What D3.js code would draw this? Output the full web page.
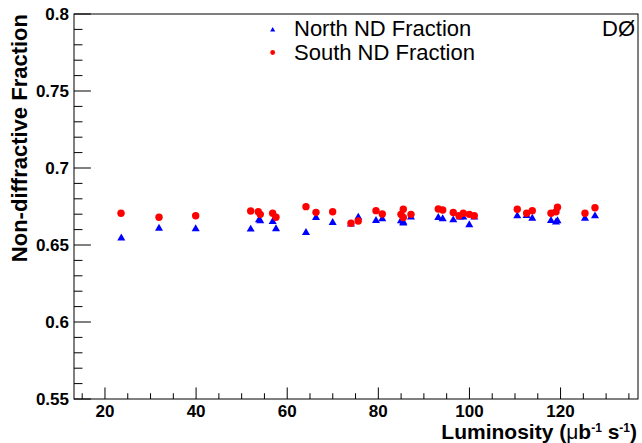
<!DOCTYPE html>
<html><head><meta charset="utf-8">
<script src="https://cdn.jsdelivr.net/npm/d3@7"></script>
<style>
html,body{margin:0;padding:0;background:#fff;}
svg{display:block;font-family:"Liberation Sans",Arial,Helvetica,sans-serif;}
</style></head>
<body><svg id="c" width="642" height="443"></svg>
<script>
// ---- data ----
const southLum = [23.52,31.86,39.91,51.98,53.65,54.09,56.81,57.54,64.12,66.32,69.98,74.00,75.60,79.49,80.87,84.97,85.48,85.48,87.17,93.16,94.13,96.45,97.70,98.65,99.97,101.06,110.50,112.56,113.79,117.90,119.00,119.33,125.36,127.56];
const southFrac = [0.6706,0.6680,0.6690,0.6721,0.6716,0.6699,0.6706,0.6680,0.6749,0.6712,0.6716,0.6641,0.6656,0.6723,0.6701,0.6699,0.6732,0.6679,0.6699,0.6734,0.6727,0.6711,0.6690,0.6706,0.6699,0.6690,0.6732,0.6706,0.6723,0.6706,0.6716,0.6745,0.6706,0.6742];
const northLum = [23.58,31.86,39.91,51.98,53.80,54.09,56.81,57.54,64.12,66.32,69.98,74.00,75.60,79.49,80.87,84.97,85.48,85.48,87.17,93.16,94.13,96.45,97.92,98.65,99.97,101.06,110.50,112.56,113.79,117.90,119.00,119.33,125.36,127.56];
const northFrac = [0.6544,0.6608,0.6604,0.6602,0.6662,0.6656,0.6651,0.6604,0.6580,0.6677,0.6645,0.6636,0.6680,0.6658,0.6669,0.6656,0.6641,0.6648,0.6680,0.6677,0.6669,0.6662,0.6680,0.6680,0.6630,0.6680,0.6688,0.6690,0.6673,0.6658,0.6649,0.6656,0.6673,0.6688];
const xTicks = [20,40,60,80,100,120];
const yTicks = [0.55,0.6,0.65,0.7,0.75,0.8];
const legendLabels = ["North ND Fraction","South ND Fraction"];
const expLabel = "DØ";

// ---- layout ----
const L=74, T=14, R=638, B=399;
const svg=d3.select("#c");
const x=d3.scaleLinear().domain([13.2,137]).range([L,R]);
const y=d3.scaleLinear().domain([0.55,0.8]).range([B,T]);
const fw=R-L, fh=B-T;
const xMaj=0.03*fh, yMaj=0.03*fw;

// frame
svg.append("rect").attr("x",L).attr("y",T).attr("width",fw).attr("height",fh)
  .attr("fill","none").attr("stroke","#000").attr("stroke-width",1);

// x axis ticks (inside)
const gx=svg.append("g");
d3.range(15,136,5).forEach(v=>{
  const maj = v%20===0;
  gx.append("line").attr("x1",x(v)).attr("x2",x(v)).attr("y1",B).attr("y2",B-(maj?xMaj:xMaj/2))
    .attr("stroke","#000").attr("stroke-width",1);
});
xTicks.forEach(v=>{
  gx.append("text").attr("x",x(v)).attr("y",B+18).attr("text-anchor","middle")
    .attr("font-weight","bold").attr("font-size",17).text(v);
});
// y axis ticks
const gy=svg.append("g");
d3.range(0,26).forEach(i=>{
  const v=0.55+i*0.01;
  const maj = i%5===0;
  gy.append("line").attr("x1",L).attr("x2",L+(maj?yMaj:yMaj/2)).attr("y1",y(v)).attr("y2",y(v))
    .attr("stroke","#000").attr("stroke-width",1);
});
yTicks.forEach(v=>{
  gy.append("text").attr("x",L-5).attr("y",y(v)+6).attr("text-anchor","end")
    .attr("font-weight","bold").attr("font-size",17).text(d3.format("")(+v.toFixed(2)));
});

// axis titles
const xt=svg.append("text").attr("x",637).attr("y",439).attr("text-anchor","end")
  .attr("font-weight","bold").attr("font-size",21);
xt.append("tspan").text("Luminosity (");
xt.append("tspan").attr("font-weight","normal").text("μ");
xt.append("tspan").text("b");
xt.append("tspan").attr("font-size",12).attr("dy",-7).text("-1");
xt.append("tspan").attr("dy",7).text(" s");
xt.append("tspan").attr("font-size",12).attr("dy",-7).text("-1");
xt.append("tspan").attr("dy",7).text(")");

svg.append("text").attr("transform","translate(27,14) rotate(-90)").attr("text-anchor","end")
  .attr("font-weight","bold").attr("font-size",22).text("Non-diffractive Fraction");

// markers
const tri=(s)=>d3.symbol().type(d3.symbolTriangle).size(s)();
svg.append("g").selectAll("path").data(northLum.map((l,i)=>[l,northFrac[i]])).join("path")
  .attr("d",tri(28)).attr("transform",d=>`translate(${x(d[0])},${y(d[1])})`).attr("fill","#0000ff");
svg.append("g").selectAll("circle").data(southLum.map((l,i)=>[l,southFrac[i]])).join("circle")
  .attr("cx",d=>x(d[0])).attr("cy",d=>y(d[1])).attr("r",3.7).attr("fill","#ff0000");

// legend
svg.append("path").attr("d",tri(11)).attr("transform","translate(272.7,30)").attr("fill","#0000ff");
svg.append("circle").attr("cx",272.7).attr("cy",52.5).attr("r",2.4).attr("fill","#ff0000");
svg.append("text").attr("x",294).attr("y",35.5).attr("font-size",22).text(legendLabels[0]);
svg.append("text").attr("x",294).attr("y",60).attr("font-size",22).text(legendLabels[1]);
svg.append("text").attr("x",635).attr("y",35.5).attr("text-anchor","end").attr("font-size",22).text(expLabel);
</script></body></html>
